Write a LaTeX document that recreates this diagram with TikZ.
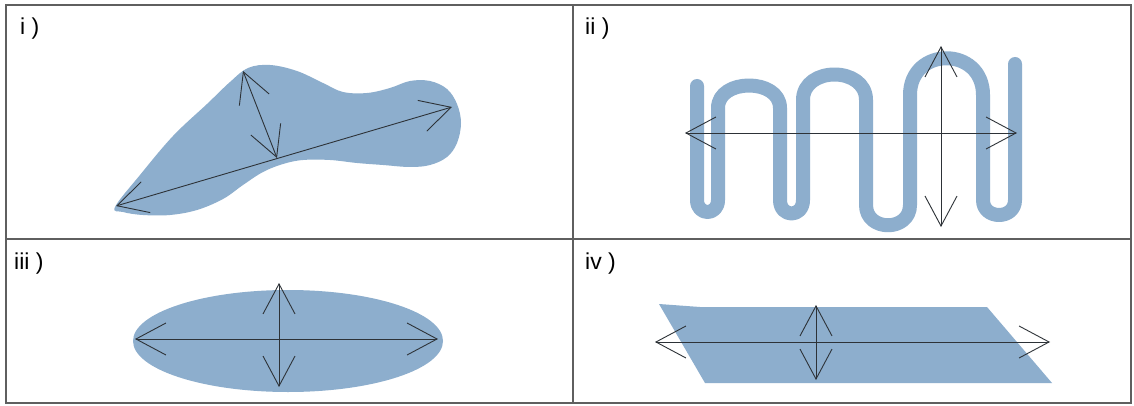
\documentclass[tikz,border=0pt]{standalone}
\usepackage{fontspec}
\setmainfont{Liberation Sans}
\usetikzlibrary{arrows.meta}
\definecolor{shapeblue}{RGB}{141,174,205}
\definecolor{framegray}{RGB}{95,95,95}
\definecolor{arrowgray}{RGB}{45,50,55}
\tikzset{
  frame/.style={draw=framegray, line width=1.6pt},
  arr/.style={draw=arrowgray, line width=0.9pt,
    {Straight Barb[length=30pt,width=32pt]}-{Straight Barb[length=30pt,width=32pt]}},
  blob/.style={fill=shapeblue, draw=none},
  snake/.style={draw=shapeblue, line width=14pt, line cap=round, line join=round},
  lbl/.style={anchor=base west, inner sep=0pt, font=\fontsize{23}{23}\selectfont, text=black}
}
\begin{document}
\begin{tikzpicture}[x=1pt,y=-1pt]
\useasboundingbox (0,0) rectangle (1134,406);
\fill[white] (0,0) rectangle (1134,406);

% ---------- panel i ----------
\fill[blob] plot[smooth cycle, tension=0.6] coordinates {
 (115,207) (140,175) (173,136) (207,104) (230,82) (248,68) (270,65) (297,71)
 (323,83) (343,92) (367,93) (390,88) (410,81) (430,81) (447,89) (457,104)
 (461,123) (457,143) (447,157) (430,165) (410,167) (383,165) (357,163)
 (330,160) (303,160) (283,164) (263,172) (243,185) (223,199) (197,210)
 (170,215) (143,215) (123,212)};
\coordinate (ia) at (116,206);
\coordinate (ib) at (452,107);
\coordinate (ic) at (243,71);
\coordinate (id) at (277,158);
\draw[arr] (ia) -- (ib);
\draw[arr] (ic) -- (id);

% ---------- panel ii ----------
\draw[snake] (697,86) -- (697,200)
  .. controls (697,216) and (718,216) .. (718,200) -- (718,108)
  .. controls (718,78) and (780,78) .. (780,108) -- (780,200)
  .. controls (780,218) and (803,218) .. (803,200) -- (803,100)
  .. controls (803,66) and (866,66) .. (866,100) -- (866,205)
  .. controls (866,232) and (910,232) .. (910,205) -- (910,95)
  .. controls (910,46) and (983,46) .. (983,95) -- (983,200)
  .. controls (983,220) and (1015,220) .. (1015,200) -- (1015,64);
\coordinate (iia) at (685,133);
\coordinate (iib) at (1017,133);
\coordinate (iic) at (941,46);
\coordinate (iid) at (941,227);
\draw[arr] (iia) -- (iib);
\draw[arr] (iic) -- (iid);

% ---------- panel iii ----------
\fill[blob] (288,341) ellipse [x radius=155, y radius=51];
\coordinate (iiia) at (135,339);
\coordinate (iiib) at (438,339);
\coordinate (iiic) at (279,283);
\coordinate (iiid) at (279,387);
\draw[arr] (iiia) -- (iiib);
\draw[arr] (iiic) -- (iiid);

% ---------- panel iv ----------
\fill[blob] (659,304) -- (700,307) -- (987,307) -- (1052,383) -- (705,383) -- cycle;
\coordinate (iva) at (655,342);
\coordinate (ivb) at (1050,342);
\coordinate (ivc) at (816,305);
\coordinate (ivd) at (816,380);
\draw[arr] (iva) -- (ivb);
\draw[arr] (ivc) -- (ivd);

% ---------- frame ----------
\draw[frame] (6,5) rectangle (1131,403);
\draw[frame, line width=1.3pt] (573,5) -- (573,403);
\draw[frame, line width=1.3pt] (6,239) -- (1131,239);

% ---------- labels ----------
\node[lbl] (li) at (20,35) {i )};
\node[lbl] (lii) at (585,35) {ii )};
\node[lbl] (liii) at (14,269) {iii )};
\node[lbl] (liv) at (585,269) {iv )};
\end{tikzpicture}
\end{document}
